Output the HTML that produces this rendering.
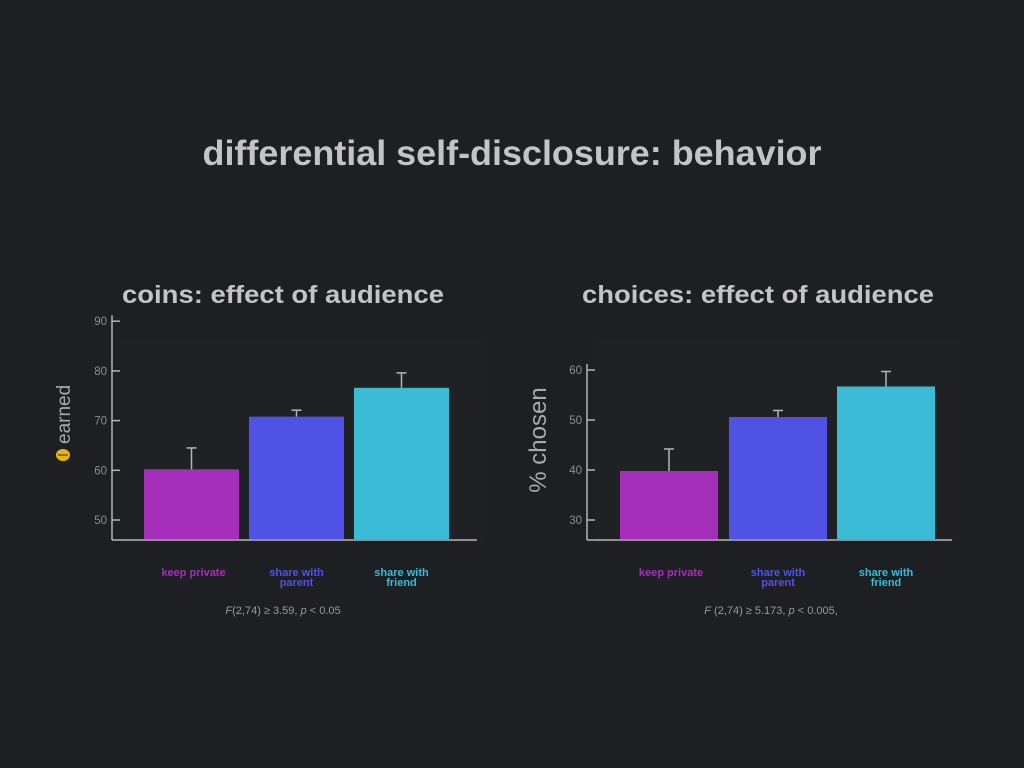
<!DOCTYPE html>
<html><head><meta charset="utf-8"><style>
html,body{margin:0;padding:0;background:#1e1f22;}
svg{display:block;font-family:"Liberation Sans",sans-serif;}
</style></head><body>
<svg id="s" width="1024" height="768" viewBox="0 0 1024 768">
<rect width="1024" height="768" fill="#1e1f22"/>
<text x="512" y="165" text-anchor="middle" font-size="35" font-weight="bold" fill="#c4c4c6" textLength="619" lengthAdjust="spacingAndGlyphs">differential self-disclosure: behavior</text>
<text x="283" y="303" text-anchor="middle" font-size="25" font-weight="bold" fill="#c4c4c6" textLength="322" lengthAdjust="spacingAndGlyphs">coins: effect of audience</text>
<text x="758" y="303" text-anchor="middle" font-size="25" font-weight="bold" fill="#c4c4c6" textLength="352" lengthAdjust="spacingAndGlyphs">choices: effect of audience</text>
<g id="c1"></g>
<g id="c2"></g>
<g transform="translate(70,430) rotate(-90)">
<ellipse cx="-25" cy="-7" rx="6" ry="7" fill="#e7b800"/>
<rect x="-26" y="-12" width="2" height="10" fill="#8a6a00"/>
<text x="-14" y="0" font-size="19" fill="#a9a9ab">earned</text>
</g>
<text transform="translate(546,440) rotate(-90)" text-anchor="middle" font-size="24" fill="#a9a9ab">% chosen</text>
<text x="283" y="614" text-anchor="middle" font-size="11" fill="#9a9a9c"><tspan font-style="italic">F</tspan>(2,74) ≥ 3.59, <tspan font-style="italic">p</tspan> &lt; 0.05</text>
<text x="771" y="614" text-anchor="middle" font-size="11" fill="#9a9a9c"><tspan font-style="italic">F</tspan> (2,74) ≥ 5.173, <tspan font-style="italic">p</tspan> &lt; 0.005,</text>
</svg>
<script>
const categories1 = ["keep private", "share with|parent", "share with|friend"];
const coinValues = [60.2, 70.8, 76.6];
const coinErrTop = [64.5, 72.1, 79.6];
const coinTicks = [50, 60, 70, 80, 90];
const categories2 = ["keep private", "share with|parent", "share with|friend"];
const choiceValues = [39.8, 50.6, 56.7];
const choiceErrTop = [44.2, 51.9, 59.7];
const choiceTicks = [30, 40, 50, 60];
const colors = ["#a52fbb", "#5052e6", "#3bbbd6"];
const NS = "http://www.w3.org/2000/svg";
function mk(parent, tag, attrs){const e=document.createElementNS(NS,tag);for(const k in attrs)e.setAttribute(k,attrs[k]);parent.appendChild(e);return e;}
function draw(gid, cfg){
  const g=document.getElementById(gid);
  const y=v=>cfg.y0+(v-cfg.v0)*cfg.k;
  const bg=mk(g,'rect',{x:cfg.ax+8,y:cfg.bgTop,width:cfg.xEnd-cfg.ax,height:540-cfg.bgTop,fill:'#202124'});
  
  
  const yl=mk(g,'line',{x1:cfg.ax,y1:y(cfg.ticks[cfg.ticks.length-1])-6,x2:cfg.ax,y2:540,stroke:'#b5b5b7','stroke-width':1.5});
  
  
  const xl=mk(g,'line',{x1:cfg.ax,y1:540,x2:cfg.xEnd,y2:540,stroke:'#b5b5b7','stroke-width':1.5});
  
  
  cfg.ticks.forEach(t=>{
    const tl=mk(g,'line',{x1:cfg.ax,y1:y(t),x2:cfg.ax+8,y2:y(t),stroke:'#b5b5b7','stroke-width':1.5});
    
    
    const tx=mk(g,'text',{x:cfg.ax-5,y:y(t)+4,'text-anchor':'end','font-size':11.5,fill:'#8e8e90'});
    tx.textContent=t;
    
    
  });
  cfg.vals.forEach((v,i)=>{
    const x=cfg.bx[i];
    const er=mk(g,'line',{x1:x+cfg.bw/2,y1:y(cfg.err[i]),x2:x+cfg.bw/2,y2:y(v),stroke:'#b5b5b7','stroke-width':1.5});
    
    
    const cap=mk(g,'line',{x1:x+cfg.bw/2-5,y1:y(cfg.err[i]),x2:x+cfg.bw/2+5,y2:y(cfg.err[i]),stroke:'#b5b5b7','stroke-width':1.5});
    
    
    const r=mk(g,'rect',{x:x,y:y(v),width:cfg.bw,height:539-y(v),fill:colors[i]});
    
    
    const parts=cfg.cats[i].split('|');
    parts.forEach((p,j)=>{
      const tx=mk(g,'text',{x:x+cfg.bw/2+(i==0?2:0),y:576+j*10,'text-anchor':'middle','font-size':11,'font-weight':'bold',fill:colors[i]});
      tx.textContent=p;
      
      
    });
  });
}
draw('c1',{ax:112,xEnd:477,bgTop:338,y0:520,v0:50,k:-4.97,ticks:coinTicks,vals:coinValues,err:coinErrTop,bx:[144,249,354],bw:95,cats:categories1});
draw('c2',{ax:587,xEnd:952,bgTop:338,y0:520,v0:30,k:-5.0,ticks:choiceTicks,vals:choiceValues,err:choiceErrTop,bx:[620,729,837],bw:98,cats:categories2});
</script>
</body></html>
